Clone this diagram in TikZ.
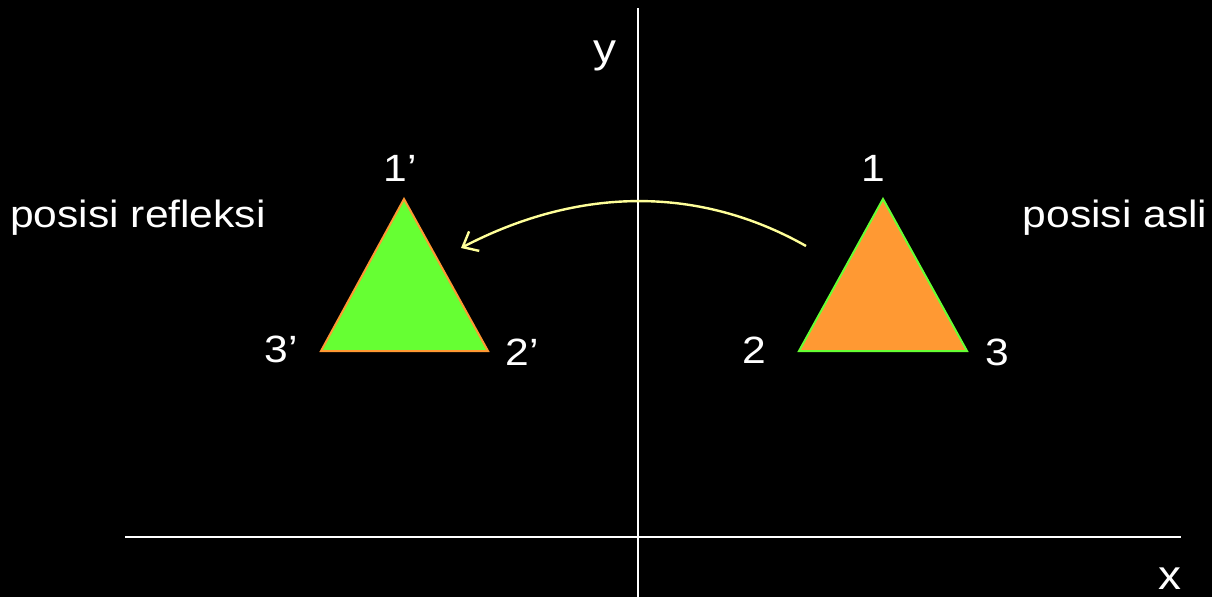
\documentclass[tikz,border=0pt]{standalone}
\usepackage{fontspec}
\setmainfont{Liberation Sans}[FakeStretch=1.12]
\usetikzlibrary{arrows.meta}
\definecolor{triGreen}{RGB}{102,255,51}
\definecolor{triOrange}{RGB}{255,153,51}
\definecolor{arrowYellow}{RGB}{255,255,153}
\begin{document}
\begin{tikzpicture}[x=1pt,y=-1pt,
  lbl/.style={text=white,font=\fontsize{38}{45}\selectfont,anchor=base,inner sep=0pt},
  axlbl/.style={text=white,font=\fontsize{41}{48}\selectfont,anchor=base,inner sep=0pt},
  axis/.style={draw=white,line width=1.4pt},
  greentri/.style={fill=triGreen,draw=triOrange,line width=2pt,line join=miter},
  orangetri/.style={fill=triOrange,draw=triGreen,line width=2pt,line join=miter},
  reflarrow/.style={draw=arrowYellow,line width=2.4pt,-{Straight Barb[length=13pt,width=22pt,line width=2.4pt]}}
]
\fill[black] (0,0) rectangle (1212,597);
\useasboundingbox (0,0) rectangle (1212,597);

% axes
\coordinate (ytop) at (638,8);
\coordinate (ybot) at (638,597);
\coordinate (xl) at (125,537);
\coordinate (xr) at (1181,537);
\draw[axis] (ytop) -- (ybot);
\draw[axis] (xl) -- (xr);

% green (reflected) triangle
\coordinate (g1) at (404,199);
\coordinate (g3) at (321,351);
\coordinate (g2) at (488,351);
\filldraw[greentri] (g1) -- (g2) -- (g3) -- cycle;

% orange (original) triangle
\coordinate (o1) at (883,199);
\coordinate (o2) at (799,351);
\coordinate (o3) at (967,351);
\filldraw[orangetri] (o1) -- (o3) -- (o2) -- cycle;

% reflection arrow
\coordinate (astart) at (806,246);
\coordinate (aend) at (461,248);
\draw[reflarrow] (astart) .. controls (700,186) and (580,186) .. (aend);

% labels
\node[lbl] (l1p) at (400,181) {1’};
\node[lbl] (l3p) at (281,362) {3’};
\node[lbl] (l2p) at (522,365) {2’};
\node[lbl] (l1) at (873,181) {1};
\node[lbl] (l2) at (754,363) {2};
\node[lbl] (l3) at (997,365) {3};
\node[axlbl] (ly) at (605,62) {y};
\node[axlbl] (lx) at (1170,589) {x};
\node[lbl] (refl) at (138,227) {posisi refleksi};
\node[lbl] (asli) at (1115,227) {posisi asli};
\end{tikzpicture}
\end{document}
